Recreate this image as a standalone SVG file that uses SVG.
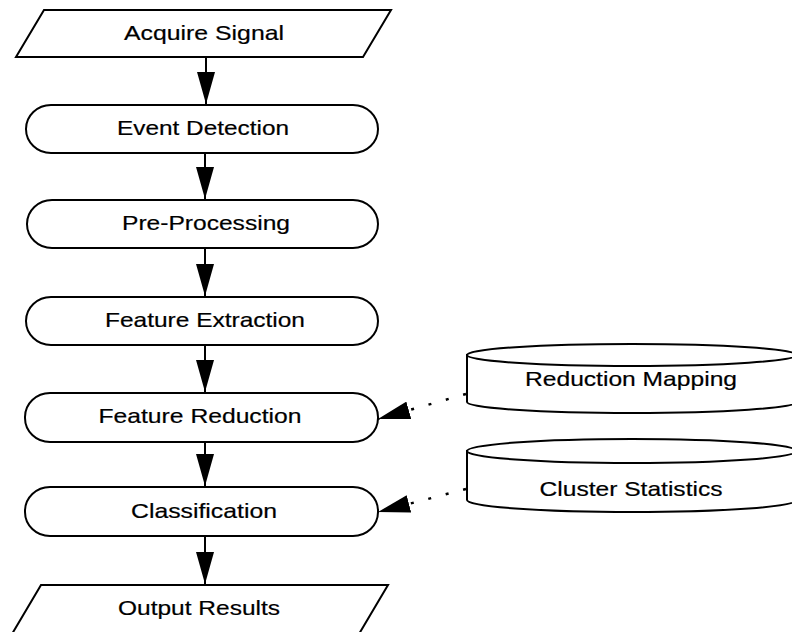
<svg xmlns="http://www.w3.org/2000/svg" width="792" height="632" viewBox="0 0 792 632">
  <style>
    .shape { fill: #ffffff; stroke: #000000; stroke-width: 2; }
    .label { font-family: "Liberation Sans", Arial, Helvetica, sans-serif; font-size: 21px; fill: #000000; stroke: #000000; stroke-width: 0.2; text-anchor: middle; }
    .flow { stroke: #000000; stroke-width: 2; fill: none; marker-end: url(#head); }
    .data { stroke: #000000; stroke-width: 2.5; fill: none; stroke-dasharray: 3 15; marker-end: url(#head); }
  </style>
  <defs>
    <marker id="head" markerUnits="userSpaceOnUse" markerWidth="32" markerHeight="18" refX="32" refY="9" orient="auto" viewBox="0 0 32 18">
      <path d="M0,0 L32,9 L0,18 Z" fill="#000000"/>
    </marker>
  </defs>

  <rect width="792" height="632" fill="#ffffff"/>

  <!-- process flow -->
  <g id="connectors">
    <line class="flow" x1="206" y1="57" x2="206" y2="104"/>
    <line class="flow" x1="205" y1="153" x2="205" y2="199"/>
    <line class="flow" x1="205" y1="248" x2="205" y2="296"/>
    <line class="flow" x1="205" y1="345" x2="205" y2="392"/>
    <line class="flow" x1="205" y1="442" x2="205" y2="486"/>
    <line class="flow" x1="205" y1="536" x2="205" y2="584"/>
    <line class="data" x1="466" y1="394" x2="378" y2="419"/>
    <line class="data" x1="466" y1="489" x2="378" y2="512"/>
  </g>

  <g id="acquire-signal">
    <polygon class="shape" points="44,10 391,10 363,57 16,57"/>
    <text class="label" x="204" y="40" textLength="160" lengthAdjust="spacingAndGlyphs">Acquire Signal</text>
  </g>

  <g id="event-detection">
    <rect class="shape" x="26" y="105" width="352" height="48" rx="25" ry="24"/>
    <text class="label" x="203" y="135" textLength="172" lengthAdjust="spacingAndGlyphs">Event Detection</text>
  </g>

  <g id="pre-processing">
    <rect class="shape" x="27" y="200" width="351" height="48" rx="25" ry="24"/>
    <text class="label" x="206" y="230" textLength="168" lengthAdjust="spacingAndGlyphs">Pre-Processing</text>
  </g>

  <g id="feature-extraction">
    <rect class="shape" x="26" y="297" width="352" height="48" rx="25" ry="24"/>
    <text class="label" x="205" y="327" textLength="200" lengthAdjust="spacingAndGlyphs">Feature Extraction</text>
  </g>

  <g id="feature-reduction">
    <rect class="shape" x="25" y="393" width="353" height="49" rx="25" ry="24"/>
    <text class="label" x="200" y="423" textLength="203" lengthAdjust="spacingAndGlyphs">Feature Reduction</text>
  </g>

  <g id="classification">
    <rect class="shape" x="25" y="487" width="353" height="49" rx="25" ry="24"/>
    <text class="label" x="204" y="518" textLength="146" lengthAdjust="spacingAndGlyphs">Classification</text>
  </g>

  <g id="output-results">
    <polygon class="shape" points="41,585 388,585 359,634 12,634"/>
    <text class="label" x="199" y="615" textLength="162" lengthAdjust="spacingAndGlyphs">Output Results</text>
  </g>

  <!-- data stores -->
  <g id="reduction-mapping">
    <path class="shape" d="M467,355 L467,402 A165,11 0 0 0 797,402 L797,355 Z"/>
    <ellipse class="shape" cx="632" cy="355" rx="165" ry="11"/>
    <text class="label" x="631" y="386" textLength="212" lengthAdjust="spacingAndGlyphs">Reduction Mapping</text>
  </g>

  <g id="cluster-statistics">
    <path class="shape" d="M467,451 L467,500 A165,12 0 0 0 797,500 L797,451 Z"/>
    <ellipse class="shape" cx="632" cy="451" rx="165" ry="12"/>
    <text class="label" x="631" y="496" textLength="183" lengthAdjust="spacingAndGlyphs">Cluster Statistics</text>
  </g>
</svg>
